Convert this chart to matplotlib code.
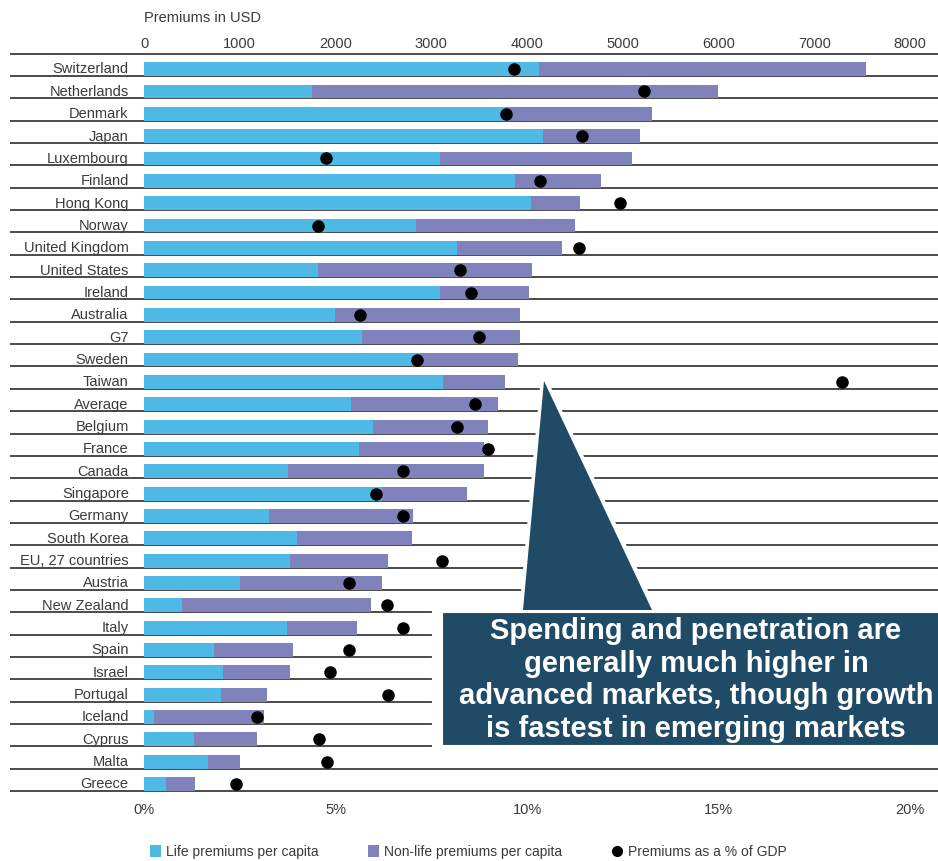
import numpy as np
import matplotlib
matplotlib.use("Agg")
import matplotlib.pyplot as plt
from matplotlib.patches import Patch, Polygon, Rectangle
from matplotlib.lines import Line2D

countries = ["Switzerland", "Netherlands", "Denmark", "Japan", "Luxembourg", "Finland",
             "Hong Kong", "Norway", "United Kingdom", "United States", "Ireland", "Australia",
             "G7", "Sweden", "Taiwan", "Average", "Belgium", "France", "Canada", "Singapore",
             "Germany", "South Korea", "EU, 27 countries", "Austria", "New Zealand", "Italy",
             "Spain", "Israel", "Portugal", "Iceland", "Cyprus", "Malta", "Greece"]

# USD per capita
life = [4125, 1758, 3780, 4163, 3091, 3878, 4042, 2838, 3266, 1814, 3091, 1995,
        2280, 2880, 3126, 2159, 2388, 2245, 1507, 2482, 1309, 1594, 1525, 1003,
        394, 1490, 735, 828, 808, 108, 522, 665, 233]
nonlife = [3412, 4233, 1529, 1021, 2006, 895, 515, 1667, 1096, 2241, 927, 1935,
           1650, 1030, 641, 1538, 1201, 1306, 2044, 891, 1504, 1205, 1020, 1486,
           1973, 735, 825, 697, 480, 1149, 662, 338, 303]

# premiums as % of GDP (no value shown for South Korea)
pct_gdp = [9.65, 13.05, 9.45, 11.44, 4.74, 10.35, 12.43, 4.55, 11.37, 8.25, 8.53, 5.64,
           8.75, 7.12, 18.23, 8.64, 8.16, 8.97, 6.77, 6.07, 6.77, np.nan, 7.77, 5.35,
           6.35, 6.77, 5.35, 4.86, 6.36, 2.96, 4.58, 4.77, 2.40]

usd_ticks = [0, 1000, 2000, 3000, 4000, 5000, 6000, 7000, 8000]
pct_ticks = [0, 5, 10, 15, 20]

blue = "#4fb9e6"
purple = "#8083bb"
navy = "#1f4b66"
txt = "#3a3a3a"

plt.rcParams["font.family"] = ["Liberation Sans", "DejaVu Sans"]

W, H = 938, 861
fig = plt.figure(figsize=(W / 100, H / 100), dpi=100)


def fx(x):
    return x / W


def fy(y):
    return 1 - y / H


ax = fig.add_axes([fx(144), fy(791), (910 - 144) / W, (791 - 53.7) / H])
ax2 = ax.twiny()
n = len(countries)
rows = np.arange(n)
yc = rows + 0.69

ax.barh(yc, life, height=0.62, color=blue, zorder=2)
ax.barh(yc, nonlife, left=life, height=0.62, color=purple, zorder=2)

ax.hlines(np.arange(n + 1), -0.175, 1.0366, transform=ax.get_yaxis_transform(),
          color="#1a1a1a", lw=1.1, clip_on=False, zorder=1)

ax.set_xlim(0, 8000)
ax.set_ylim(n, 0)
ax.xaxis.tick_top()
ax.xaxis.set_label_position("top")
ax.set_xticks(usd_ticks)
ax.set_xticklabels([str(t) for t in usd_ticks])
ax.tick_params(axis="x", length=0, pad=2, labelsize=10.5, labelcolor=txt)
ax.set_yticks(rows + 0.64)
ax.set_yticklabels(countries)
ax.tick_params(axis="y", length=0, pad=11, labelsize=10.5, labelcolor=txt)
for s in ax.spines.values():
    s.set_visible(False)

ax2.plot(pct_gdp, yc, "o", color="black", markersize=8, zorder=3)
ax2.set_xlim(0, 20)
ax2.xaxis.tick_bottom()
ax2.set_xticks(pct_ticks)
ax2.set_xticklabels([f"{t}%" for t in pct_ticks])
ax2.tick_params(axis="x", length=0, pad=9, labelsize=10.5, labelcolor=txt)
for s in ax2.spines.values():
    s.set_visible(False)

fig.text(fx(144), fy(18), "Premiums in USD", fontsize=10.5, color=txt, va="center", ha="left")

# callout
tri = Polygon([(fx(544), fy(381)), (fx(523), fy(607)), (fx(652), fy(607))],
              closed=True, transform=fig.transFigure, facecolor=navy,
              edgecolor="white", lw=5, joinstyle="miter", zorder=10)
fig.patches.append(tri)
box = Rectangle((fx(437), fy(750)), fx(938) - fx(437) + 0.01, fy(607) - fy(750),
                transform=fig.transFigure, facecolor=navy, edgecolor="white",
                lw=8, zorder=11)
fig.patches.append(box)
tri2 = Polygon([(fx(544), fy(381)), (fx(523), fy(610)), (fx(652), fy(610))],
               closed=True, transform=fig.transFigure, facecolor=navy,
               edgecolor="none", zorder=12)
fig.patches.append(tri2)
fig.text(fx(696), fy(680),
         "Spending and penetration are\ngenerally much higher in\n"
         "advanced markets, though growth\nis fastest in emerging markets",
         ha="center", va="center", color="white", fontsize=21, fontweight="bold",
         linespacing=1.21, zorder=13)

handles = [Patch(facecolor=blue), Patch(facecolor=purple),
           Line2D([], [], marker="o", color="black", linestyle="none", markersize=7)]
labels = ["Life premiums per capita", "Non-life premiums per capita", "Premiums as a % of GDP"]
leg = fig.legend(handles, labels, loc="center", bbox_to_anchor=(fx(468), fy(852)), ncol=3,
                 frameon=False, fontsize=10, handlelength=0.8, handleheight=1.0,
                 handletextpad=0.4, columnspacing=3.5)
for t in leg.get_texts():
    t.set_color(txt)

fig.savefig("out.png", dpi=100)
